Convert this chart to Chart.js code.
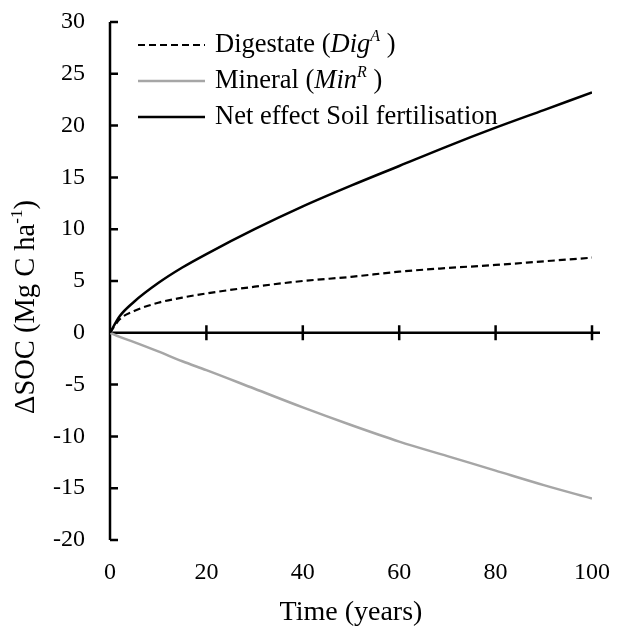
<!DOCTYPE html>
<html>
<head>
<meta charset="utf-8">
<script src="https://cdn.jsdelivr.net/npm/chart.js@4"></script>
<style>
  body { margin: 0; background: #fff; }
</style>
</head>
<body>
<canvas id="socChart" width="617" height="629"></canvas>
<script>
const years = [0, 2, 5, 10, 15, 20, 30, 40, 50, 60, 70, 80, 90, 100];
const digestate = [0, 1.3, 2.1, 2.9, 3.4, 3.8, 4.45, 5.0, 5.4, 5.9, 6.25, 6.55, 6.9, 7.25];
const mineral = [0, -0.4, -0.9, -1.8, -2.75, -3.6, -5.4, -7.2, -8.9, -10.5, -11.9, -13.3, -14.7, -16.0];
const netEffect = [0, 1.6, 3.0, 4.8, 6.3, 7.6, 10.0, 12.2, 14.2, 16.1, 18.0, 19.8, 21.5, 23.2];

const xTicks = [0, 20, 40, 60, 80, 100];
const yTicks = [-20, -15, -10, -5, 0, 5, 10, 15, 20, 25, 30];

// legend text pieces: [text, style]
const legendLabels = [
  [['Digestate (', ''], ['Dig', 'italic'], ['A', 'sup'], [' )', '']],
  [['Mineral (', ''], ['Min', 'italic'], ['R', 'sup'], [' )', '']],
  [['Net effect Soil fertilisation', '']]
];
const yTitle = [['\u0394SOC (Mg C ha', ''], ['-1', 'sup'], [')', '']];
const xTitle = 'Time (years)';

const serif = '"Liberation Serif", "Times New Roman", serif';

function fontFor(style, size, supPlain) {
  const small = Math.round(size * 0.6);
  if (style === 'italic') return `italic ${size}px ${serif}`;
  if (style === 'sup') return supPlain ? `${small}px ${serif}` : `italic ${small}px ${serif}`;
  return `${size}px ${serif}`;
}

function drawParts(ctx, parts, x, y, size, supPlain) {
  parts.forEach(([t, style]) => {
    ctx.font = fontFor(style, size, supPlain);
    const dy = style === 'sup' ? -size * 0.32 : 0;
    ctx.fillText(t, x, y + dy);
    x += ctx.measureText(t).width;
  });
  return x;
}

function partsWidth(ctx, parts, size, supPlain) {
  let w = 0;
  parts.forEach(([t, style]) => {
    ctx.font = fontFor(style, size, supPlain);
    w += ctx.measureText(t).width;
  });
  return w;
}

const axesPlugin = {
  id: 'axes',
  beforeDatasetsDraw(chart) {
    const { ctx, chartArea: a, scales: { x, y } } = chart;
    const y0 = y.getPixelForValue(0);
    ctx.save();
    ctx.strokeStyle = '#000';
    ctx.lineWidth = 2.5;
    ctx.beginPath();
    ctx.moveTo(a.left, y.getPixelForValue(yTicks[yTicks.length - 1]));
    ctx.lineTo(a.left, y.getPixelForValue(yTicks[0]));
    y.ticks.forEach(t => {
      const p = y.getPixelForValue(t.value);
      ctx.moveTo(a.left, p);
      ctx.lineTo(a.left + 8, p);
    });
    ctx.moveTo(a.left, y0);
    ctx.lineTo(a.right + 8, y0);
    x.ticks.forEach(t => {
      if (t.value === 0) return;
      const p = x.getPixelForValue(t.value);
      ctx.moveTo(p, y0 - 7.5);
      ctx.lineTo(p, y0 + 7.5);
    });
    ctx.stroke();
    ctx.restore();
  },
  afterDraw(chart) {
    const { ctx, chartArea: a } = chart;
    ctx.save();
    ctx.fillStyle = '#000';
    ctx.textBaseline = 'middle';

    // legend
    const sx = a.left + 28;
    chart.data.datasets.forEach((ds, i) => {
      const ry = a.top + 23 + i * 36;
      ctx.save();
      ctx.strokeStyle = ds.borderColor;
      ctx.lineWidth = ds.borderWidth;
      ctx.setLineDash(ds.borderDash || []);
      ctx.beginPath();
      ctx.moveTo(sx, ry);
      ctx.lineTo(sx + 67, ry);
      ctx.stroke();
      ctx.restore();
      drawParts(ctx, legendLabels[i], sx + 77, ry, 26.5, false);
    });

    // y axis title
    const size = 28.5;
    const cy = (a.top + a.bottom) / 2 + 26;
    ctx.translate(27, cy);
    ctx.rotate(-Math.PI / 2);
    const w = partsWidth(ctx, yTitle, size, true);
    drawParts(ctx, yTitle, -w / 2, 0, size, true);
    ctx.restore();
  }
};

new Chart(document.getElementById('socChart').getContext('2d'), {
  type: 'line',
  data: {
    labels: years,
    datasets: [
      {
        label: 'Digestate',
        data: years.map((v, i) => ({ x: v, y: digestate[i] })),
        borderColor: '#000',
        borderWidth: 2.2,
        borderDash: [7, 4]
      },
      {
        label: 'Mineral',
        data: years.map((v, i) => ({ x: v, y: mineral[i] })),
        borderColor: '#a6a6a6',
        borderWidth: 2.5
      },
      {
        label: 'Net effect Soil fertilisation',
        data: years.map((v, i) => ({ x: v, y: netEffect[i] })),
        borderColor: '#000',
        borderWidth: 2.5
      }
    ]
  },
  options: {
    responsive: false,
    animation: false,
    cubicInterpolationMode: 'monotone',
    elements: { point: { radius: 0 } },
    layout: { padding: { top: 22, right: 25, bottom: 0, left: 0 } },
    plugins: { legend: { display: false }, tooltip: { enabled: false } },
    scales: {
      x: {
        type: 'linear',
        min: 0,
        max: 100,
        afterBuildTicks: s => { s.ticks = xTicks.map(v => ({ value: v })); },
        afterFit: s => { s.height = 89; s.paddingLeft = 0; s.paddingRight = 0; },
        grid: { display: false },
        border: { display: false },
        ticks: { color: '#000', font: { family: serif, size: 24 }, padding: 10, maxRotation: 0 },
        title: { display: true, text: xTitle, color: '#000', font: { family: serif, size: 28 }, padding: { top: 0, bottom: 0 } }
      },
      y: {
        min: -20,
        max: 30,
        afterBuildTicks: s => { s.ticks = yTicks.map(v => ({ value: v })); },
        afterFit: s => { s.width = 110; s.paddingTop = 0; s.paddingBottom = 0; },
        grid: { display: false },
        border: { display: false },
        ticks: { color: '#000', font: { family: serif, size: 24 }, padding: 17 }
      }
    }
  },
  plugins: [axesPlugin]
});
</script>
</body>
</html>
